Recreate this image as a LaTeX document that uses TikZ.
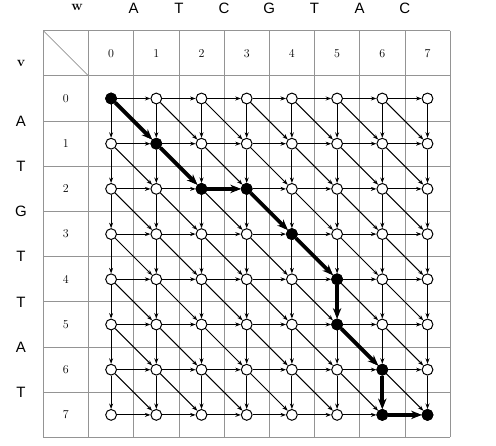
\documentclass[tikz,border=0pt]{standalone}
\usepackage{fontspec}
\newfontfamily\sansf{Liberation Sans}
\usetikzlibrary{arrows.meta}
\begin{document}
\begin{tikzpicture}[x=1pt,y=-1pt,
  gridline/.style={draw=black!42, line width=0.8pt},
  vtx/.style={circle,draw,line width=1pt,fill=white,inner sep=0pt,minimum size=10.8pt},
  pathvtx/.style={vtx,fill=black},
  edge/.style={line width=1pt,-{Stealth[length=5.5pt,width=4pt]}},
  boldedge/.style={line width=3.8pt,-{Stealth[length=10.5pt,width=8.5pt]}},
  seq/.style={font=\sansf\fontsize{15}{15}\selectfont},
  idx/.style={font=\fontsize{12}{12}\selectfont},
  lab/.style={font=\bfseries\fontsize{14}{14}\selectfont}]
\useasboundingbox (0,0) rectangle (496,446);
\fill[white] (0,0) rectangle (496,446);
% grid
\foreach \k in {0,...,9} {
  \draw[gridline] ({43.3+45.2*\k},30.7) -- ({43.3+45.2*\k},437.5);
  \draw[gridline] (43.3,{30.7+45.2*\k}) -- (450.1,{30.7+45.2*\k});
}
\draw[gridline] (43.3,30.7) -- (88.5,75.9);
% labels
\node[lab] (w) at (77,7.5) {w};
\node[lab] (v) at (21,63) {v};
\foreach \L [count=\k] in {A,T,C,G,T,A,C}
  \node[seq] (top\k) at ({88.5+45.2*\k},8.5) {\L};
\foreach \L [count=\k] in {A,T,G,T,T,A,T}
  \node[seq] (left\k) at (21,{75.9+45.2*\k}) {\L};
\foreach \j in {0,...,7} {
  \node[idx] (c\j) at ({111.1+45.2*\j},53.3) {\j};
  \node[idx] (r\j) at (65.9,{98.5+45.2*\j}) {\j};
}
% vertices
\foreach \i in {0,...,7}
  \foreach \j in {0,...,7}
    \node[vtx] (n-\i-\j) at ({111.1+45.2*\j},{98.5+45.2*\i}) {};
\foreach \i/\j in {0/0,1/1,2/2,2/3,3/4,4/5,5/5,6/6,7/6,7/7}
  \node[pathvtx] (n-\i-\j) at ({111.1+45.2*\j},{98.5+45.2*\i}) {};
% thin edges
\foreach \i in {0,...,7}
  \foreach \j in {0,...,7} {
    \pgfmathtruncatemacro\ni{\i+1}
    \pgfmathtruncatemacro\nj{\j+1}
    \ifnum\j<7 \draw[edge] (n-\i-\j) -- (n-\i-\nj); \fi
    \ifnum\i<7 \draw[edge] (n-\i-\j) -- (n-\ni-\j); \fi
    \ifnum\i<7 \ifnum\j<7 \draw[edge] (n-\i-\j) -- (n-\ni-\nj); \fi\fi
  }
% alignment path
\foreach \a/\b in {0-0/1-1,1-1/2-2,2-2/2-3,2-3/3-4,3-4/4-5,4-5/5-5,5-5/6-6,6-6/7-6,7-6/7-7}
  \draw[boldedge] (n-\a) -- (n-\b);
\end{tikzpicture}
\end{document}
